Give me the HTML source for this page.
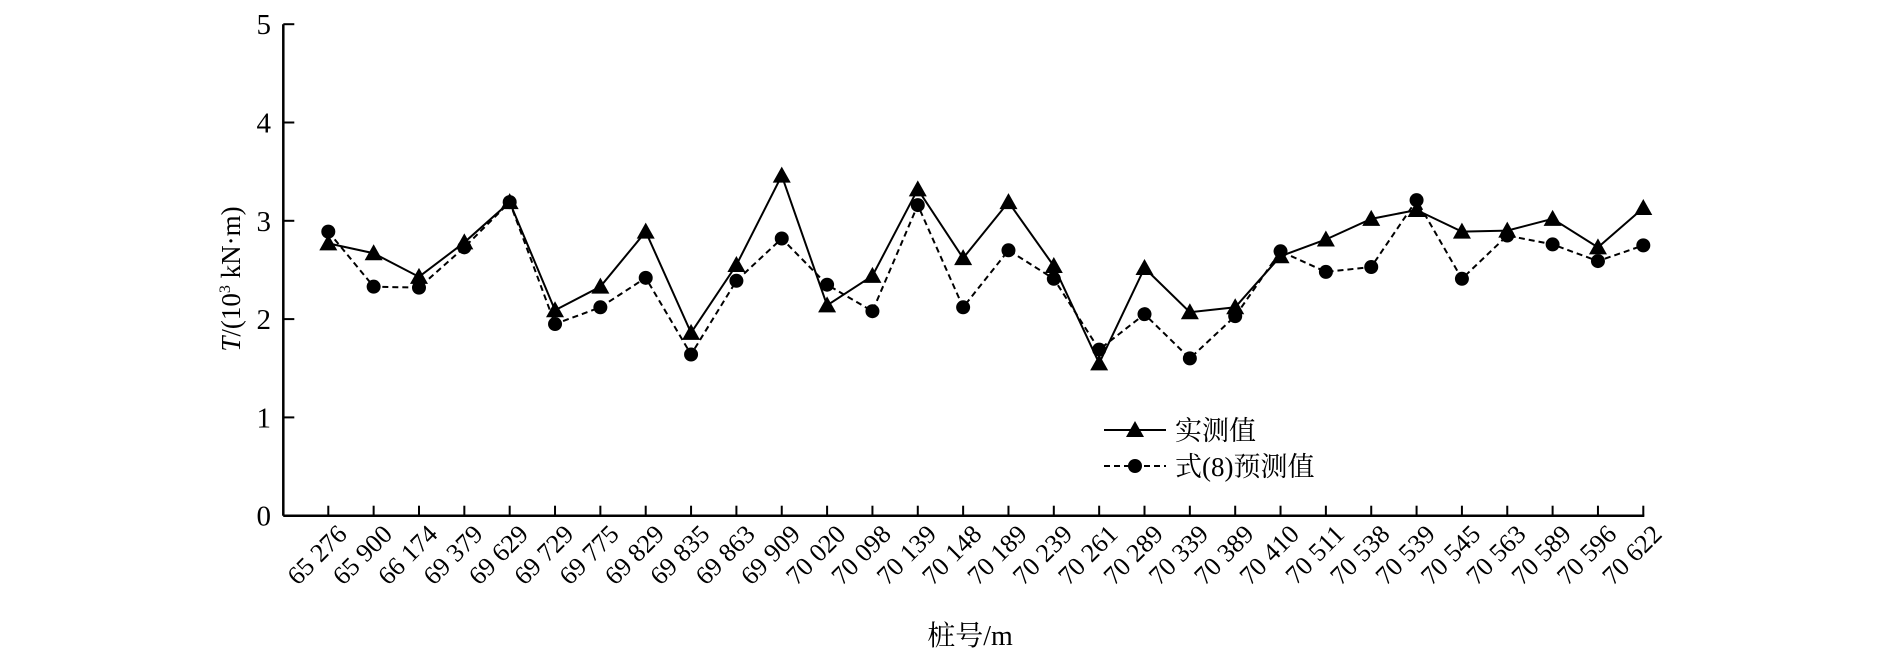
<!DOCTYPE html>
<html><head><meta charset="utf-8"><style>
html,body{margin:0;padding:0;background:#fff;}
svg{display:block;font-family:"Liberation Serif","Noto Serif CJK SC",serif;}
</style></head><body>
<svg id="chart" width="1890" height="658" viewBox="0 0 1890 658" xmlns="http://www.w3.org/2000/svg">
<g id="axes"></g>
<g id="series"></g>
<g id="legend">
  <line x1="1104" y1="430" x2="1166" y2="430" stroke="#000" stroke-width="2"/>
  <polygon points="1135,421 1144,437 1126,437" fill="#000"/>
  <text x="1175" y="440" font-size="27">实测值</text>
  <line x1="1104" y1="466" x2="1166" y2="466" stroke="#000" stroke-width="2" stroke-dasharray="6,4"/>
  <circle cx="1135" cy="466" r="7" fill="#000"/>
  <text x="1175" y="476" font-size="27">式(8)预测值</text>
</g>
<text x="970" y="645" font-size="28" text-anchor="middle">桩号/m</text>
<text transform="translate(240,279) rotate(-90)" font-size="27" text-anchor="middle"><tspan font-style="italic">T</tspan>/(10<tspan font-size="16" dy="-10">3</tspan><tspan dy="10"> kN·m)</tspan></text>
</svg>
<script>
const categories = ["65 276","65 900","66 174","69 379","69 629","69 729","69 775","69 829","69 835","69 863","69 909","70 020","70 098","70 139","70 148","70 189","70 239","70 261","70 289","70 339","70 389","70 410","70 511","70 538","70 539","70 545","70 563","70 589","70 596","70 622"];
const measured = [2.77,2.67,2.43,2.78,3.19,2.09,2.33,2.89,1.86,2.55,3.46,2.14,2.44,3.32,2.62,3.19,2.54,1.55,2.52,2.07,2.12,2.64,2.81,3.02,3.11,2.89,2.90,3.02,2.73,3.13];
const predicted = [2.89,2.33,2.32,2.73,3.19,1.95,2.12,2.42,1.64,2.39,2.82,2.35,2.08,3.16,2.12,2.70,2.41,1.69,2.05,1.60,2.03,2.69,2.48,2.53,3.21,2.41,2.85,2.76,2.59,2.75];
const yTicks = [0,1,2,3,4,5];

const NS="http://www.w3.org/2000/svg";
const X0=283.3, Y0=515.7, PER=98.3, FIRST=328.3, LAST=1643.3;
function xs(i){return FIRST+i*(LAST-FIRST)/(categories.length-1);}
function ys(v){return Y0-v*PER;}
function mk(tag,attrs,parent){const e=document.createElementNS(NS,tag);for(const k in attrs)e.setAttribute(k,attrs[k]);parent.appendChild(e);return e;}
const axes=document.getElementById('axes');
const series=document.getElementById('series');

let a=mk('line',{x1:X0,y1:ys(5),x2:X0,y2:Y0,stroke:'#000','stroke-width':2.5},axes);


a=mk('line',{x1:X0,y1:Y0,x2:LAST+1,y2:Y0,stroke:'#000','stroke-width':2.5},axes);



yTicks.forEach(v=>{
  const t=mk('line',{x1:X0,y1:ys(v),x2:X0+11,y2:ys(v),stroke:'#000','stroke-width':2},axes);
  
  
  const l=mk('text',{x:271,y:ys(v)+10,'font-size':29,'text-anchor':'end'},axes);
  
  
  l.textContent=v;
});
categories.forEach((c,i)=>{
  const x=xs(i);
  const t=mk('line',{x1:x,y1:Y0,x2:x,y2:Y0-10,stroke:'#000','stroke-width':2},axes);
  
  
  const l=mk('text',{transform:`translate(${x+20},${Y0+20}) rotate(-45)`,'font-size':26,'text-anchor':'end'},axes);
  
  
  l.textContent=c;
});

let p=mk('polyline',{points:predicted.map((v,i)=>xs(i)+','+ys(v)).join(' '),fill:'none',stroke:'#000','stroke-width':2,'stroke-dasharray':'6,4'},series);


p=mk('polyline',{points:measured.map((v,i)=>xs(i)+','+ys(v)).join(' '),fill:'none',stroke:'#000','stroke-width':2},series);


predicted.forEach((v,i)=>{
  const c=mk('circle',{cx:xs(i),cy:ys(v),r:7,fill:'#000'},series);
  
  
});
measured.forEach((v,i)=>{
  const x=xs(i),y=ys(v);
  const t=mk('polygon',{points:`${x},${y-9} ${x+9},${y+7} ${x-9},${y+7}`,fill:'#000'},series);
  
  
});
</script>
</body></html>
